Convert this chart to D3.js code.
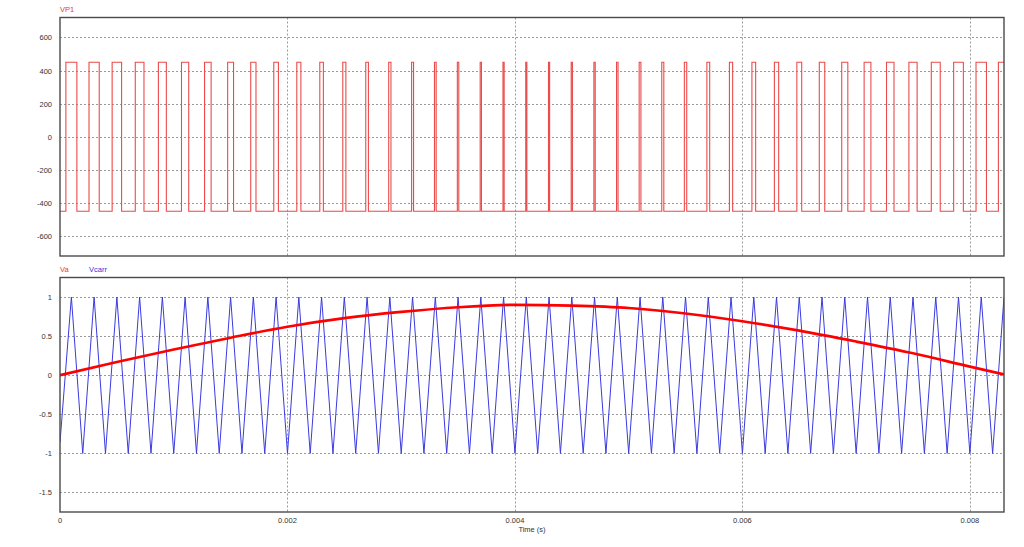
<!DOCTYPE html>
<html>
<head>
<meta charset="utf-8">
<script src="https://cdn.jsdelivr.net/npm/d3@7"></script>
<style>
  body { margin: 0; background: #ffffff; }
  text { font-family: "Liberation Sans", Arial, sans-serif; }
</style>
</head>
<body>
<div id="chart"></div>
<script>
// time axis (ms on the scale, labelled in seconds)
var xTickValues = [0, 2, 4, 6, 8];
var xTickLabels = ["0", "0.002", "0.004", "0.006", "0.008"];

// top panel ticks
var vp1Ticks = [600, 400, 200, 0, -200, -400, -600];
// bottom panel ticks
var lowTicks = [1, 0.5, 0, -0.5, -1, -1.5];

// VP1 pulse levels
var vp1High = 450;
var vp1Low = -450;

// VP1 rising / falling edges (ms)
var pwmOn = [0.0517, 0.2551, 0.4585, 0.6618, 0.865, 1.0682, 1.2712, 1.4741, 1.6769, 1.8796,
  2.082, 2.2843, 2.4864, 2.6883, 2.8900, 3.0914, 3.2926, 3.4936, 3.6943, 3.8948,
  4.095, 4.2950, 4.4947, 4.6941, 4.8933, 5.0923, 5.2910, 5.4895, 5.6877, 5.8858,
  6.0836, 6.2812, 6.4787, 6.676, 6.8732, 7.0702, 7.2671, 7.4639, 7.6607, 7.8573,
  8.054, 8.2506];
var pwmOff = [0.1483, 0.3449, 0.5415, 0.7383, 0.935, 1.1318, 1.3288, 1.5259, 1.7231, 1.9204,
  2.118, 2.3157, 2.5136, 2.7117, 2.9100, 3.1086, 3.3074, 3.5064, 3.7057, 3.9052,
  4.105, 4.3050, 4.5053, 4.7059, 4.9067, 5.1077, 5.3090, 5.5105, 5.7123, 5.9142,
  6.1164, 6.3188, 6.5213, 6.724, 6.9268, 7.1298, 7.3329, 7.5361, 7.7393, 7.9427,
  8.146, null];

// Va reference sine (ms, value)
var vaTime = [0, 0.5, 1, 1.5, 2, 2.5, 3, 3.5, 4, 4.5, 5, 5.5, 6, 6.5, 7, 7.5, 8, 8.3];
var vaValue = [0, 0.17, 0.33, 0.48, 0.62, 0.73, 0.81, 0.87, 0.9, 0.89, 0.86, 0.79, 0.69, 0.57, 0.43, 0.28, 0.11, 0.01];

// Vcarr triangle corners (ms, value)
var carrTime = [0, 0.1, 0.2, 0.3, 0.4, 0.5, 0.6, 0.7, 0.8, 0.9,
  1.0, 1.1, 1.2, 1.3, 1.4, 1.5, 1.6, 1.7, 1.8, 1.9,
  2.0, 2.1, 2.2, 2.3, 2.4, 2.5, 2.6, 2.7, 2.8, 2.9,
  3.0, 3.1, 3.2, 3.3, 3.4, 3.5, 3.6, 3.7, 3.8, 3.9,
  4.0, 4.1, 4.2, 4.3, 4.4, 4.5, 4.6, 4.7, 4.8, 4.9,
  5.0, 5.1, 5.2, 5.3, 5.4, 5.5, 5.6, 5.7, 5.8, 5.9,
  6.0, 6.1, 6.2, 6.3, 6.4, 6.5, 6.6, 6.7, 6.8, 6.9,
  7.0, 7.1, 7.2, 7.3, 7.4, 7.5, 7.6, 7.7, 7.8, 7.9,
  8.0, 8.1, 8.2, 8.3];
var carrValue = [-0.86, 1, -1, 1, -1, 1, -1, 1, -1, 1,
  -1, 1, -1, 1, -1, 1, -1, 1, -1, 1,
  -1, 1, -1, 1, -1, 1, -1, 1, -1, 1,
  -1, 1, -1, 1, -1, 1, -1, 1, -1, 1,
  -1, 1, -1, 1, -1, 1, -1, 1, -1, 1,
  -1, 1, -1, 1, -1, 1, -1, 1, -1, 1,
  -1, 1, -1, 1, -1, 1, -1, 1, -1, 1,
  -1, 1, -1, 1, -1, 1, -1, 1, -1, 1,
  -1, 1, -1, 1];

var svgWidth = 1024;
var svgHeight = 547;

var left = 60, right = 1004;

var svg = d3.select("#chart")
  .append("svg")
  .attr("width", svgWidth)
  .attr("height", svgHeight);

var xScale = d3.scaleLinear().domain([0, 8.3]).range([left, right]);

var topY = d3.scaleLinear().domain([-720, 720]).range([256, 17.5]);
var lowY = d3.scaleLinear().domain([-1.75, 1.25]).range([512, 277.5]);

// draws grid, frame and y labels for one panel
function drawPanel(yScale, ticks, id) {
  var y0 = yScale.range()[0], y1 = yScale.range()[1];
  var g = svg.append("g");

  svg.append("clipPath").attr("id", id)
    .append("rect")
    .attr("x", left).attr("y", y1)
    .attr("width", right - left).attr("height", y0 - y1);

  g.selectAll(".hgrid")
    .data(ticks)
    .enter()
    .append("line")
    .attr("x1", left).attr("x2", right)
    .attr("y1", d => Math.round(yScale(d)) + 0.5)
    .attr("y2", d => Math.round(yScale(d)) + 0.5)
    .attr("stroke", "#9a9a9a")
    .attr("stroke-dasharray", "2,2");

  g.selectAll(".vgrid")
    .data(xTickValues.slice(1))
    .enter()
    .append("line")
    .attr("x1", d => Math.round(xScale(d)) + 0.5)
    .attr("x2", d => Math.round(xScale(d)) + 0.5)
    .attr("y1", y1).attr("y2", y0)
    .attr("stroke", "#9a9a9a")
    .attr("stroke-dasharray", "2,2");

  g.selectAll(".ylab")
    .data(ticks)
    .enter()
    .append("text")
    .attr("x", 52)
    .attr("y", d => yScale(d) + 3)
    .attr("text-anchor", "end")
    .attr("font-size", "7.5px")
    .attr("fill", "#333")
    .text(d => d);

  return g;
}

var topPanel = drawPanel(topY, vp1Ticks, "clipTop");
var lowPanel = drawPanel(lowY, lowTicks, "clipLow");

// VP1 square wave
var vp1Points = [[0, vp1Low]];
pwmOn.forEach(function(t, i) {
  vp1Points.push([t, vp1Low], [t, vp1High]);
  if (pwmOff[i] !== null) {
    vp1Points.push([pwmOff[i], vp1High], [pwmOff[i], vp1Low]);
  } else {
    vp1Points.push([8.3, vp1High]);
  }
});

var topLine = d3.line()
  .x(d => xScale(d[0]))
  .y(d => topY(d[1]));

svg.append("path")
  .datum(vp1Points)
  .attr("clip-path", "url(#clipTop)")
  .attr("d", topLine)
  .attr("fill", "none")
  .attr("stroke", "#ec4a4a")
  .attr("stroke-width", 1.1);

var lowLine = d3.line()
  .x(d => xScale(d[0]))
  .y(d => lowY(d[1]));

// carrier
svg.append("path")
  .datum(carrTime.map((t, i) => [t, carrValue[i]]))
  .attr("clip-path", "url(#clipLow)")
  .attr("d", lowLine)
  .attr("fill", "none")
  .attr("stroke", "#3a3ae0")
  .attr("stroke-width", 1);

// reference sine
svg.append("path")
  .datum(vaTime.map((t, i) => [t, vaValue[i]]))
  .attr("clip-path", "url(#clipLow)")
  .attr("d", lowLine.curve(d3.curveMonotoneX))
  .attr("fill", "none")
  .attr("stroke", "#ff0000")
  .attr("stroke-width", 2.6);

// frames
[topY, lowY].forEach(function(ys) {
  var y0 = ys.range()[0], y1 = ys.range()[1];
  svg.append("rect")
    .attr("x", left).attr("y", y1)
    .attr("width", right - left).attr("height", y0 - y1)
    .attr("fill", "none")
    .attr("stroke", "#4a4a4a")
    .attr("stroke-width", 1.4);
});

// x tick labels
svg.selectAll(".xlab")
  .data(xTickValues)
  .enter()
  .append("text")
  .attr("x", d => xScale(d))
  .attr("y", 523)
  .attr("text-anchor", "middle")
  .attr("font-size", "7.5px")
  .attr("fill", "#333")
  .text((d, i) => xTickLabels[i]);

svg.append("text")
  .attr("x", (left + right) / 2)
  .attr("y", 532)
  .attr("text-anchor", "middle")
  .attr("font-size", "7.5px")
  .attr("fill", "#333")
  .text("Time (s)");

// series names
svg.append("text").attr("x", 60).attr("y", 12)
  .attr("font-size", "7.5px").attr("fill", "#ee3333").text("VP1");
svg.append("text").attr("x", 60).attr("y", 272)
  .attr("font-size", "7.5px").attr("fill", "#ee3333").text("Va");
svg.append("text").attr("x", 89).attr("y", 272)
  .attr("font-size", "7.5px").attr("fill", "#3333dd").text("Vcarr");
</script>
</body>
</html>
